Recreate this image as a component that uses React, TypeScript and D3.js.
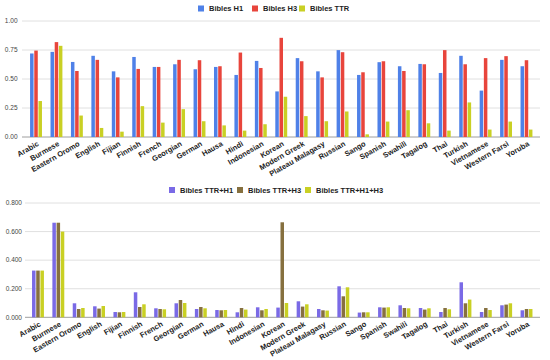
import React from "react";
import * as d3 from "d3";

const languages = [
  "Arabic", "Burmese", "Eastern Oromo", "English", "Fijian", "Finnish", "French",
  "Georgian", "German", "Hausa", "Hindi", "Indonesian", "Korean", "Modern Greek",
  "Plateau Malagasy", "Russian", "Sango", "Spanish", "Swahili", "Tagalog", "Thai",
  "Turkish", "Vietnamese", "Western Farsi", "Yoruba",
];

const biblesH1 = [0.72, 0.734, 0.647, 0.70, 0.566, 0.69, 0.604, 0.627, 0.584, 0.604, 0.535, 0.656, 0.393, 0.68, 0.566, 0.749, 0.535, 0.645, 0.61, 0.63, 0.552, 0.70, 0.40, 0.665, 0.61];
const biblesH3 = [0.745, 0.818, 0.569, 0.665, 0.514, 0.587, 0.604, 0.665, 0.662, 0.61, 0.728, 0.595, 0.855, 0.653, 0.514, 0.731, 0.558, 0.653, 0.569, 0.627, 0.749, 0.627, 0.68, 0.697, 0.662];
const biblesTTR = [0.31, 0.786, 0.185, 0.078, 0.046, 0.266, 0.124, 0.24, 0.136, 0.10, 0.055, 0.11, 0.347, 0.18, 0.136, 0.22, 0.023, 0.133, 0.231, 0.118, 0.055, 0.298, 0.064, 0.133, 0.064];

const ttrH1 = [0.327, 0.662, 0.098, 0.077, 0.037, 0.175, 0.063, 0.098, 0.058, 0.051, 0.035, 0.07, 0.068, 0.112, 0.058, 0.217, 0.033, 0.07, 0.084, 0.065, 0.037, 0.245, 0.037, 0.084, 0.049];
const ttrH3 = [0.327, 0.662, 0.058, 0.061, 0.035, 0.072, 0.058, 0.121, 0.072, 0.049, 0.065, 0.049, 0.665, 0.075, 0.049, 0.147, 0.035, 0.068, 0.065, 0.054, 0.065, 0.098, 0.065, 0.089, 0.058];
const ttrH1H3 = [0.327, 0.60, 0.065, 0.079, 0.037, 0.091, 0.056, 0.10, 0.063, 0.051, 0.054, 0.058, 0.10, 0.091, 0.047, 0.21, 0.035, 0.07, 0.063, 0.063, 0.056, 0.124, 0.051, 0.098, 0.058];

const topSeriesNames = ["Bibles H1", "Bibles H3", "Bibles TTR"];
const bottomSeriesNames = ["Bibles TTR+H1", "Bibles TTR+H3", "Bibles TTR+H1+H3"];
const topTicks = [0, 0.25, 0.5, 0.75, 1.0];
const bottomTicks = [0, 0.2, 0.4, 0.6, 0.8];

const topColors = ["#4f81e8", "#e8453c", "#c9d024"];
const bottomColors = ["#7a6ae6", "#86703f", "#c9d024"];

const FONT = "Arial, 'Liberation Sans', sans-serif";

type PanelProps = {
  series: number[][];
  names: string[];
  colors: string[];
  ticks: number[];
  fmt: string;
  yDomain: [number, number];
  yRange: [number, number];
  xRange: [number, number];
  gridX: [number, number];
  tickLabelX: number;
  legend: { x: number; y: number; textOffsets: number[] };
};

function Panel(p: PanelProps) {
  const x = d3.scaleBand<string>().domain(languages).range(p.xRange).padding(0);
  const y = d3.scaleLinear().domain(p.yDomain).range(p.yRange);
  const f = d3.format(p.fmt);
  const barW = 3.5;
  const barStep = 4.2;
  const groupW = barStep * (p.series.length - 1) + barW;
  const y0 = y(0);
  return (
    <g>
      {p.ticks.map((t) => (
        <g key={t}>
          <line
            x1={p.gridX[0]}
            x2={p.gridX[1]}
            y1={y(t)}
            y2={y(t)}
            stroke={t === 0 ? "#9e9e9e" : "#e0e0e0"}
            strokeWidth={1}
          />
          <text
            x={p.tickLabelX}
            y={y(t)}
            dy="0.35em"
            textAnchor="end"
            fontSize={6.5}
            fill="#444"
            fontFamily={FONT}
          >
            {f(t)}
          </text>
        </g>
      ))}
      {languages.map((lang, i) => {
        const cx = (x(lang) as number) + x.bandwidth() / 2;
        const start = cx - groupW / 2;
        return (
          <g key={lang}>
            {p.series.map((s, k) => (
              <rect
                key={k}
                x={start + k * barStep}
                y={y(s[i])}
                width={barW}
                height={y0 - y(s[i])}
                fill={p.colors[k]}
              />
            ))}
            <text
              transform={`translate(${cx + 2},${y0 + 6}) rotate(-30)`}
              textAnchor="end"
              dy="0.35em"
              fontSize={7.5}
              fontWeight="bold"
              fill="#222"
              fontFamily={FONT}
            >
              {lang}
            </text>
          </g>
        );
      })}
      {p.names.map((n, k) => (
        <g key={n}>
          <rect
            x={p.legend.x + p.legend.textOffsets[k]}
            y={p.legend.y - 3}
            width={6}
            height={6}
            fill={p.colors[k]}
          />
          <text
            x={p.legend.x + p.legend.textOffsets[k] + 11}
            y={p.legend.y}
            dy="0.35em"
            fontSize={7.5}
            fontWeight="bold"
            fill="#222"
            fontFamily={FONT}
          >
            {n}
          </text>
        </g>
      ))}
    </g>
  );
}

export default function App() {
  return (
    <svg
      width={550}
      height={360}
      style={{ position: "absolute", left: 0, top: 0, background: "#fff" }}
    >
      <Panel
        series={[biblesH1, biblesH3, biblesTTR]}
        names={topSeriesNames}
        colors={topColors}
        ticks={topTicks}
        fmt=".2f"
        yDomain={[0, 1]}
        yRange={[137, 21]}
        xRange={[25.8, 536.7]}
        gridX={[22, 540]}
        tickLabelX={17.5}
        legend={{ x: 198, y: 8.5, textOffsets: [0, 54, 101] }}
      />
      <Panel
        series={[ttrH1, ttrH3, ttrH1H3]}
        names={bottomSeriesNames}
        colors={bottomColors}
        ticks={bottomTicks}
        fmt=".3f"
        yDomain={[0, 0.8]}
        yRange={[317.3, 203]}
        xRange={[27.8, 536.7]}
        gridX={[25, 540]}
        tickLabelX={22}
        legend={{ x: 169, y: 190, textOffsets: [0, 68, 136] }}
      />
    </svg>
  );
}
